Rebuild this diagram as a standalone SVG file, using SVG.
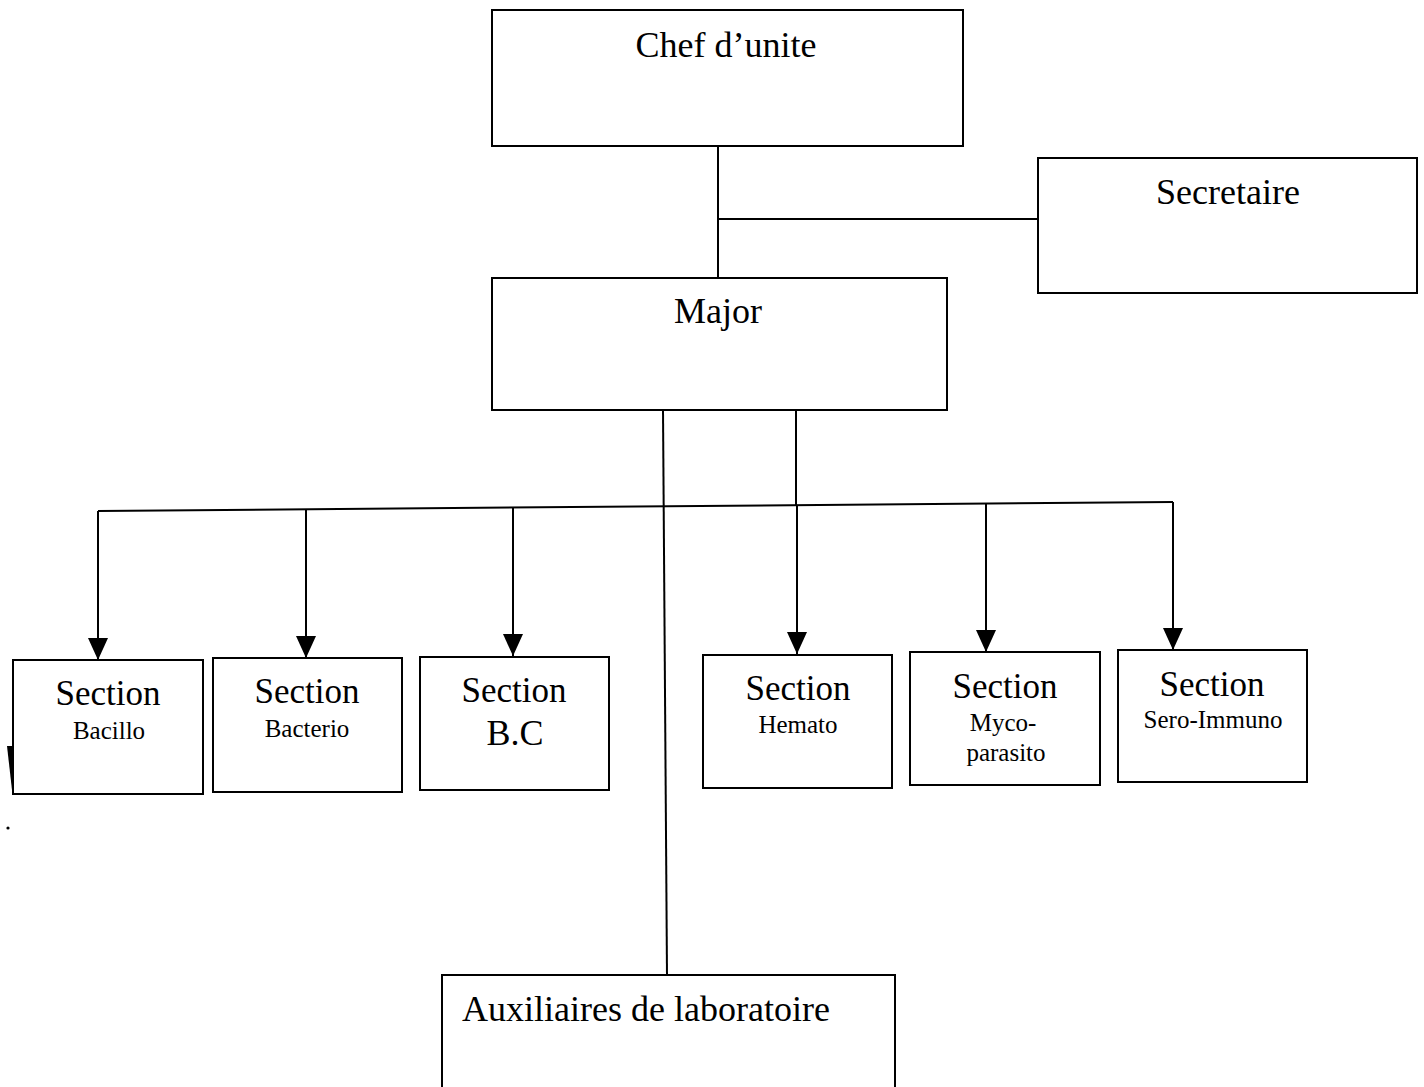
<svg xmlns="http://www.w3.org/2000/svg" width="1424" height="1087" viewBox="0 0 1424 1087">
<style>
.box{fill:#fff;stroke:#000;stroke-width:2}
.ln{fill:none;stroke:#000;stroke-width:2}
.arr{fill:none;stroke:#000;stroke-width:2;marker-end:url(#ah)}
.t{font-family:"Liberation Serif","Times New Roman",serif;fill:#000}
.big{font-size:36px}
.sec{font-size:35px}
.sub{font-size:25px}
</style>
<defs>
<marker id="ah" markerWidth="22" markerHeight="20" refX="22" refY="10" orient="auto" markerUnits="userSpaceOnUse" viewBox="0 0 22 20">
<path d="M0,0 L22,10 L0,20 Z" fill="#000"/>
</marker>
</defs>
<rect width="1424" height="1087" fill="#fff"/>
<g id="connectors">
<line class="ln" x1="718" y1="146" x2="718" y2="278"/>
<line class="ln" x1="718" y1="219" x2="1038" y2="219"/>
<line class="ln" x1="663" y1="410" x2="667" y2="975"/>
<line class="ln" x1="796" y1="410" x2="796" y2="506"/>
<line class="ln" x1="98" y1="511" x2="1173" y2="502"/>
<line class="arr" x1="98" y1="511" x2="98" y2="660"/>
<line class="arr" x1="306" y1="509" x2="306" y2="658"/>
<line class="arr" x1="513" y1="507" x2="513" y2="656"/>
<line class="arr" x1="797" y1="505" x2="797" y2="654"/>
<line class="arr" x1="986" y1="503" x2="986" y2="652"/>
<line class="arr" x1="1173" y1="502" x2="1173" y2="650"/>
<polygon points="7,746 17,746 12,790" fill="#000"/>
<circle cx="8" cy="828" r="1.6" fill="#000"/>
</g>
<g id="chef">
<rect class="box" x="492" y="10" width="471" height="136"/>
<text class="t big" x="726" y="57" text-anchor="middle">Chef d’unite</text>
</g>
<g id="secretaire">
<rect class="box" x="1038" y="158" width="379" height="135"/>
<text class="t big" x="1228" y="204" text-anchor="middle">Secretaire</text>
</g>
<g id="major">
<rect class="box" x="492" y="278" width="455" height="132"/>
<text class="t big" x="718" y="323" text-anchor="middle">Major</text>
</g>
<g id="bacillo">
<rect class="box" x="13" y="660" width="190" height="134"/>
<text class="t sec" x="108" y="705" text-anchor="middle">Section</text>
<text class="t sub" x="109" y="739" text-anchor="middle">Bacillo</text>
</g>
<g id="bacterio">
<rect class="box" x="213" y="658" width="189" height="134"/>
<text class="t sec" x="307" y="703" text-anchor="middle">Section</text>
<text class="t sub" x="307" y="737" text-anchor="middle">Bacterio</text>
</g>
<g id="bc">
<rect class="box" x="420" y="657" width="189" height="133"/>
<text class="t sec" x="514" y="702" text-anchor="middle">Section</text>
<text class="t big" x="515" y="745" text-anchor="middle">B.C</text>
</g>
<g id="hemato">
<rect class="box" x="703" y="655" width="189" height="133"/>
<text class="t sec" x="798" y="700" text-anchor="middle">Section</text>
<text class="t sub" x="798" y="733" text-anchor="middle">Hemato</text>
</g>
<g id="myco">
<rect class="box" x="910" y="652" width="190" height="133"/>
<text class="t sec" x="1005" y="698" text-anchor="middle">Section</text>
<text class="t sub" x="1003" y="731" text-anchor="middle">Myco-</text>
<text class="t sub" x="1006" y="761" text-anchor="middle">parasito</text>
</g>
<g id="sero">
<rect class="box" x="1118" y="650" width="189" height="132"/>
<text class="t sec" x="1212" y="696" text-anchor="middle">Section</text>
<text class="t sub" x="1213" y="728" text-anchor="middle">Sero-Immuno</text>
</g>
<g id="auxiliaires">
<rect class="box" x="442" y="975" width="453" height="120"/>
<text class="t big" x="462" y="1021">Auxiliaires de laboratoire</text>
</g>
</svg>
